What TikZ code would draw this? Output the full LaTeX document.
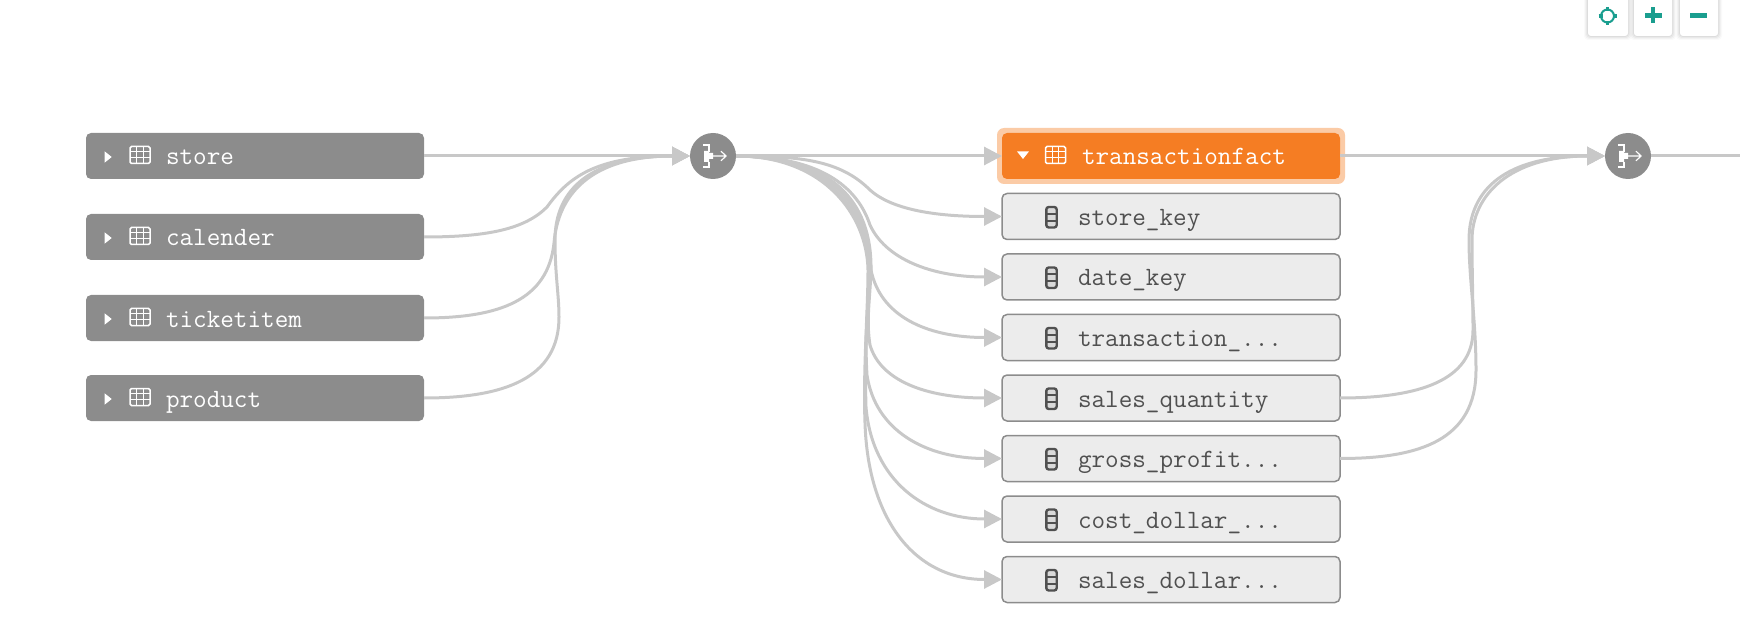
\documentclass[tikz,border=0pt]{standalone}
\usetikzlibrary{arrows.meta}
\definecolor{tblgray}{HTML}{8C8C8C}
\definecolor{edgegray}{HTML}{C8C8C8}
\definecolor{factorange}{HTML}{F57D23}
\definecolor{facthalo}{HTML}{FBCBA6}
\definecolor{colfill}{HTML}{ECECEC}
\definecolor{coltext}{HTML}{505050}
\definecolor{teal}{HTML}{1A9E8F}
\tikzset{
  x=1pt,y=-1pt,
  basebox/.style={rectangle,rounded corners=5pt,minimum height=46pt,minimum width=338pt,
    text width=338pt,inner xsep=0pt,inner ysep=0pt,outer sep=0pt,align=left,text height=24pt,text depth=6pt,
    font=\fontsize{26.4}{30}\selectfont\ttfamily},
  tablebox/.style={basebox,fill=tblgray,text=white},
  factbox/.style={basebox,fill=factorange,text=white},
  halobox/.style={rectangle,rounded corners=7pt,fill=facthalo,minimum width=348pt,minimum height=56pt,inner sep=0pt,outer sep=0pt},
  colbox/.style={basebox,fill=colfill,draw=tblgray,line width=1.5pt,minimum width=338pt,minimum height=46pt,text=coltext},
  joinnode/.style={circle,fill=tblgray,minimum size=46pt,inner sep=0pt,outer sep=0pt},
  edge/.style={draw=edgegray,line width=3pt},
  link/.style={edge,-{Triangle[length=18pt,width=18pt]}},
  toolbtn/.style={rectangle,rounded corners=3pt,fill=white,inner sep=0pt,outer sep=0pt},
  toolmark/.style={teal,line width=4.5pt},
  pics/gridmark/.style={code={
    \draw[#1,line width=1.5pt,rounded corners=1.5pt] (-10,-9.5) rectangle (10,7.5);
    \draw[#1,line width=1.1pt] (-10,-4.2) -- (10,-4.2) (-10,1.6) -- (10,1.6) (-3.4,-9.5) -- (-3.4,7.5) (3.4,-9.5) -- (3.4,7.5);
  }},
  pics/caretright/.style={code={\fill[white] (-3.3,-5.6) -- (3.7,0) -- (-3.3,5.6) -- cycle;}},
  pics/caretdown/.style={code={\fill[white] (-6,-3.6) -- (6,-3.6) -- (0,4) -- cycle;}},
  pics/colmark/.style={code={
    \draw[coltext,fill=colfill!92!black,line width=2.4pt,rounded corners=2.5pt] (-5.2,-10) rectangle (5.2,10.5);
    \draw[coltext,line width=2pt] (-5.2,-3.4) -- (5.2,-3.4) (-5.2,3.6) -- (5.2,3.6);
  }},
  pics/joinmark/.style={code={
    \draw[white,line width=1.2pt] (-10,-11) -- (-4,-11) -- (-4,-4) (-4,6) -- (-4,11) -- (-10,11);
    \fill[white] (-9,-5) -- (-4,-5) -- (-4,-3) -- (0,-3) -- (0,3) -- (-4,3) -- (-4,6) -- (-9,6) -- cycle;
    \draw[white,line width=1.2pt] (0,0) -- (13,0) (8,-4.8) -- (13,0) -- (8,4.8);
  }},
}
\begin{document}
\begin{tikzpicture}
\useasboundingbox (0,0) rectangle (1740,636);
\clip (0,0) rectangle (1740,636);

% toolbar shadows and buttons
\foreach \s/\o in {4/0.02,3/0.03,2/0.04,1/0.05}{
  \fill[black,opacity=\o,rounded corners=4pt] (1588-\s,-6) rectangle (1628+\s,36+\s);
  \fill[black,opacity=\o,rounded corners=4pt] (1634-\s,-6) rectangle (1672+\s,36+\s);
  \fill[black,opacity=\o,rounded corners=4pt] (1680-\s,-6) rectangle (1718+\s,36+\s);
}
\node[toolbtn,minimum width=40pt,minimum height=44pt] (btnfit) at (1608,14) {};
\node[toolbtn,minimum width=38pt,minimum height=44pt] (btnplus) at (1653,14) {};
\node[toolbtn,minimum width=38pt,minimum height=44pt] (btnminus) at (1699,14) {};
\draw[teal,line width=2pt] (1607.5,16) circle (6.5);
\draw[teal,line width=3.4pt] (1607.5,7) -- (1607.5,11) (1607.5,21) -- (1607.5,25) (1598.5,16) -- (1602.5,16) (1612.5,16) -- (1616.5,16);
\draw[toolmark] (1645,15.5) -- (1661.5,15.5) (1653.2,7.5) -- (1653.2,23.5);
\draw[toolmark] (1690,15.3) -- (1707,15.3);

% source tables
\node[tablebox] (store) at (255,156) {\hspace*{80pt}store};
\node[tablebox] (calender) at (255,237) {\hspace*{80pt}calender};
\node[tablebox] (ticket) at (255,318) {\hspace*{80pt}ticketitem};
\node[tablebox] (product) at (255,398) {\hspace*{80pt}product};
\foreach \n in {store,calender,ticket,product}{
  \pic at ([xshift=22pt,yshift=-1pt]\n.west) {caretright};
  \pic at ([xshift=54pt]\n.west) {gridmark=white};
}

% joins
\node[joinnode] (joinA) at (713,156) {};
\node[joinnode] (joinB) at (1628,156) {};
\pic at (joinA) {joinmark};
\pic at (joinB) {joinmark};

% central table and its columns
\node[halobox] (facthalo) at (1171,156) {};
\node[factbox] (fact) at (1171,156) {\hspace*{80pt}transactionfact};
\pic at ([xshift=21pt,yshift=1pt]fact.west) {caretdown};
\pic at ([xshift=53.5pt]fact.west) {gridmark=white};
\node[colbox] (c1) at (1171,216.5) {\hspace*{76pt}store\_key};
\node[colbox] (c2) at (1171,277) {\hspace*{76pt}date\_key};
\node[colbox] (c3) at (1171,337.5) {\hspace*{76pt}transaction\_...};
\node[colbox] (c4) at (1171,398) {\hspace*{76pt}sales\_quantity};
\node[colbox] (c5) at (1171,458.5) {\hspace*{76pt}gross\_profit...};
\node[colbox] (c6) at (1171,519) {\hspace*{76pt}cost\_dollar\_...};
\node[colbox] (c7) at (1171,579.5) {\hspace*{76pt}sales\_dollar...};
\foreach \n in {c1,c2,c3,c4,c5,c6,c7}{
  \pic at ([xshift=49.5pt,yshift=-0.5pt]\n.west) {colmark};
}

\coordinate (outB) at (1740,156);

% edges into first join
\draw[link] (store.east) -- (joinA.west);
\draw[link] (calender.east) .. controls (488,237) and (525,229) .. (547,207) .. controls (568,178) and (595,156) .. (joinA.west);
\draw[link] (ticket.east) .. controls (500,318) and (548,300) .. (554,243) .. controls (558,195) and (590,156) .. (joinA.west);
\draw[link] (product.east) .. controls (505,398) and (559,378) .. (559,317) .. controls (559,295) and (555,275) .. (555,240) .. controls (555,190) and (590,156) .. (joinA.west);

% edges out of first join
\draw[link] (joinA.east) -- (fact.west);
\draw[link] (joinA.east) .. controls (800,156) and (840,160) .. (870,190) .. controls (890,208) and (930,216.5) .. (c1.west);
\draw[link] (joinA.east) .. controls (810,156) and (855,180) .. (870,225) .. controls (885,258) and (930,277) .. (c2.west);
\draw[link] (joinA.east) .. controls (820,156) and (866,190) .. (871,270) .. controls (880,315) and (925,337.5) .. (c3.west);
\draw[link] (joinA.east) .. controls (830,156) and (872,200) .. (871,270) .. controls (870,300) and (866,320) .. (870,345) .. controls (880,380) and (925,398) .. (c4.west);
\draw[link] (joinA.east) .. controls (828,156) and (870,205) .. (870,270) .. controls (870,300) and (864,330) .. (867,375) .. controls (875,430) and (925,458.5) .. (c5.west);
\draw[link] (joinA.east) .. controls (826,156) and (868,210) .. (869,270) .. controls (869,300) and (864,340) .. (866,407) .. controls (872,480) and (925,519) .. (c6.west);
\draw[link] (joinA.east) .. controls (824,156) and (867,215) .. (868,270) .. controls (868,310) and (863,370) .. (865,423) .. controls (868,520) and (915,579.5) .. (c7.west);

% edges into second join
\draw[link] (fact.east) -- (joinB.west);
\draw[link] (c4.east) .. controls (1420,398) and (1473,380) .. (1473,330) .. controls (1473,300) and (1472,270) .. (1472,240) .. controls (1472,195) and (1510,156) .. (joinB.west);
\draw[link] (c5.east) .. controls (1420,458.5) and (1476,440) .. (1476,370) .. controls (1476,320) and (1469,280) .. (1469,240) .. controls (1469,190) and (1505,156) .. (joinB.west);
\draw[edge] (joinB.east) -- (outB);
\end{tikzpicture}
\end{document}
